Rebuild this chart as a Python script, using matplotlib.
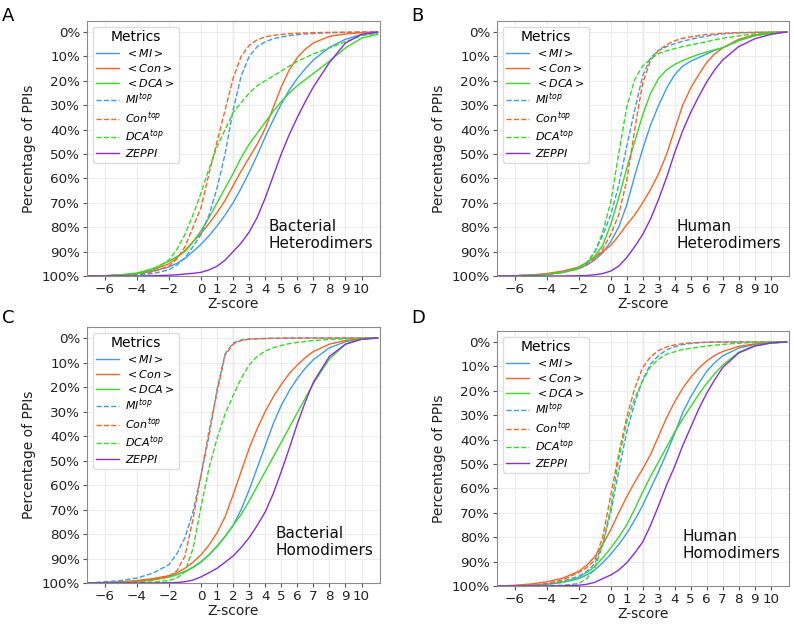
import numpy as np
import matplotlib.pyplot as plt

# Z-score sampling points shared by every curve
zscore = [-7, -6, -5, -4, -3, -2, -1.5, -1, -0.5, 0, 0.5, 1, 1.5, 2, 2.5,
          3, 3.5, 4, 4.5, 5, 5.5, 6, 6.5, 7, 8, 9, 10, 11]

# A: bacterial heterodimers (percentage of PPIs)
a_mi = [100, 99.9, 99.6, 99.1, 98, 96.3, 94.8, 92.8, 90, 87, 83.5, 79.5, 75, 70, 64,
        57.5, 50.5, 43, 36, 29.5, 23.8, 19, 15, 11.5, 6.3, 3, 1, 0.3]
a_con = [100, 99.9, 99.6, 99, 97.5, 95, 92.5, 89.5, 86, 82.5, 78.5, 74, 69, 63, 57,
         51.5, 46, 39.5, 31, 22.5, 15.5, 10.5, 7, 4.5, 1.8, 0.8, 0.3, 0]
a_dca = [100, 99.9, 99.5, 98.8, 97, 94, 92, 90, 86, 81.5, 76, 70, 64, 58, 51.5,
         46, 41.5, 37, 32.5, 28.5, 25, 22, 19.5, 17, 12, 6.5, 2.5, 1]
a_mitop = [100, 100, 99.9, 99.6, 99, 97.5, 95.5, 92.5, 88, 83, 75, 64, 50, 32, 18,
           10, 6, 4, 2.8, 2, 1.5, 1.1, 0.8, 0.6, 0.3, 0.15, 0.05, 0]
a_contop = [100, 99.9, 99.7, 99.3, 98.3, 96, 93, 88, 80, 72, 58, 45, 32, 19, 10,
            5.5, 3.2, 2, 1.4, 1, 0.7, 0.5, 0.4, 0.3, 0.15, 0.1, 0.05, 0]
a_dcatop = [100, 100, 99.8, 99.3, 97.5, 93.5, 89, 83, 75, 66, 56, 47, 40, 33, 29,
            25, 22, 20, 18, 16, 14, 12, 10.5, 9, 6.5, 4, 1.5, 0.5]
a_zeppi = [100, 100, 100, 100, 99.9, 99.7, 99.5, 99.2, 98.9, 98.5, 97.5, 96, 93.5, 90, 86.5,
           82, 76, 68, 59, 50, 42, 35, 28.5, 22.5, 12.5, 4.5, 1, 0]

# B: human heterodimers
b_mi = [100, 99.9, 99.7, 99.3, 98.5, 97, 95.5, 93.5, 90.5, 86, 80, 71, 59, 48, 38,
        30, 23, 17.5, 14, 12, 10.5, 9, 7.5, 6.5, 3.5, 1.5, 0.5, 0]
b_con = [100, 99.9, 99.6, 99, 98, 96.3, 94.5, 92.5, 90, 87.5, 83.5, 79, 75, 70, 64.5,
         58, 50, 40, 30, 23, 17.5, 12.5, 9, 6.5, 3, 1.2, 0.4, 0]
b_dca = [100, 99.9, 99.7, 99.3, 98.5, 96.5, 94.5, 92, 87.5, 79, 68, 56, 45, 34, 25,
         19, 15.5, 13.3, 11.7, 10.4, 9.2, 8.2, 7.3, 6.5, 3.5, 1.5, 0.5, 0]
b_mitop = [100, 99.9, 99.7, 99.3, 98.5, 97, 95, 90, 83.5, 75, 63, 47, 32, 18, 10.5,
           7.5, 6, 4.8, 3.8, 3, 2.3, 1.7, 1.2, 0.8, 0.4, 0.2, 0.05, 0]
b_contop = [100, 99.9, 99.7, 99.3, 98.5, 97, 95.5, 93, 89, 83, 75, 61, 40, 21, 11.5,
            7.5, 5.2, 3.6, 2.6, 2, 1.5, 1, 0.8, 0.5, 0.25, 0.1, 0.05, 0]
b_dcatop = [100, 99.9, 99.7, 99.3, 98.5, 97, 94.5, 90.5, 82, 70, 50, 31, 19.5, 14, 11,
            8.8, 7.7, 6.8, 6, 5.3, 4.6, 4, 3.2, 2.6, 1.6, 0.8, 0.2, 0]
b_zeppi = [100, 100, 100, 100, 100, 99.9, 99.8, 99.5, 99, 98, 96, 92.5, 88, 83, 76.5,
           68.5, 59.5, 49.5, 40.5, 33, 26.5, 20.5, 15.5, 11.5, 6, 2.8, 1, 0]

# C: bacterial homodimers
c_mi = [100, 99.9, 99.7, 99.4, 98.7, 97.5, 96.5, 95.3, 93.5, 91.3, 88.5, 85, 81, 76.5, 70,
        62, 53, 44, 35, 27.5, 21.5, 16.5, 12.3, 8.8, 4, 1.5, 0.3, 0]
c_con = [100, 99.8, 99.5, 99, 98.2, 97, 95.8, 94, 91.5, 88.5, 84.5, 79.5, 73, 64, 54.5,
         45, 37, 30, 24, 19, 14.5, 11, 8, 5.5, 2.5, 1, 0.3, 0]
c_dca = [100, 99.9, 99.7, 99.4, 98.7, 97.6, 96.6, 95.4, 93.7, 91.5, 88.5, 85, 81, 76.5, 72,
         66.5, 60.5, 54.5, 48.5, 42.5, 36.5, 30.5, 24.5, 18.5, 8.5, 2.5, 0.5, 0]
c_mitop = [100, 99.5, 99, 98, 96, 92.5, 88, 81.5, 71, 56, 40, 21, 6.5, 2, 0.8,
           0.4, 0.3, 0.2, 0.1, 0.1, 0.05, 0, 0, 0, 0, 0, 0, 0]
c_contop = [100, 99.9, 99.7, 99.4, 98.7, 97.3, 95, 89, 74, 56, 38, 22, 7, 2.5, 1,
            0.5, 0.3, 0.2, 0.1, 0.05, 0, 0, 0, 0, 0, 0, 0, 0]
c_dcatop = [100, 100, 99.9, 99.8, 99.6, 99, 98, 95.5, 86, 69, 53, 41, 31, 23.5, 16.5,
            11, 7.5, 5.3, 4, 3, 2.3, 1.8, 1.4, 1, 0.6, 0.3, 0.1, 0]
c_zeppi = [100, 100, 100, 100, 100, 99.9, 99.8, 99.5, 98.8, 97.5, 95.8, 94, 91.5, 89, 85.5,
           81.5, 76.5, 71, 63.5, 54.5, 45, 35, 26, 18, 7.5, 2.5, 0.5, 0]

# D: human homodimers
d_mi = [100, 99.9, 99.7, 99.3, 98.5, 97, 95.5, 93.5, 90.5, 87, 83, 78.5, 73, 67, 60,
        53, 45.5, 37.5, 29, 22.5, 17, 12, 8.5, 5.7, 2.5, 1, 0.3, 0]
d_con = [100, 99.7, 99.2, 98.3, 96.8, 94, 91.5, 88, 83, 77, 70, 63.5, 57.5, 52, 46,
         38.5, 31, 24.5, 19, 14.5, 10.8, 7.8, 5.5, 3.9, 1.8, 0.8, 0.3, 0]
d_dca = [100, 99.9, 99.7, 99.3, 98.5, 96.5, 94.5, 92, 88.5, 84.5, 80, 75, 68.5, 61.5, 55,
         49, 43, 37, 31.5, 26.5, 21.5, 17, 13, 9.5, 4.2, 1.5, 0.5, 0]
d_mitop = [100, 99.9, 99.7, 99.3, 98, 96, 94, 91, 83, 70, 53, 37, 25, 15.5, 9,
           5.5, 3.2, 1.9, 1.1, 0.6, 0.3, 0.15, 0.05, 0, 0, 0, 0, 0]
d_contop = [100, 99.9, 99.6, 99, 97.5, 94.5, 92.5, 89.5, 80, 63, 46, 31, 19, 10.5, 6,
            3.5, 2, 1.2, 0.7, 0.4, 0.2, 0.1, 0, 0, 0, 0, 0, 0]
d_dcatop = [100, 100, 100, 99.9, 99.7, 99, 97, 93, 83, 68, 48, 33, 23, 16, 10,
            7, 5, 4, 3.1, 2.6, 2.1, 1.7, 1.3, 1, 0.5, 0.2, 0.05, 0]
d_zeppi = [100, 100, 100, 100, 99.9, 99.7, 99.3, 98.5, 97, 95.5, 93.5, 90.5, 86.5, 82, 75,
           67, 58.5, 51, 42.5, 35, 27.5, 21, 15.5, 10.5, 4.5, 1.7, 0.4, 0]

metric_labels = [r'$<MI>$', r'$<Con>$', r'$<DCA>$', r'$MI^{top}$',
                 r'$Con^{top}$', r'$DCA^{top}$', r'$ZEPPI$']
x_ticks = [-6, -4, -2, 0, 1, 2, 3, 4, 5, 6, 7, 8, 9, 10]
y_ticks = [0, 10, 20, 30, 40, 50, 60, 70, 80, 90, 100]

c_blue, c_orange, c_green, c_purple = '#3b9cf2', '#ff6222', '#33dd22', '#8a2be2'
line_colors = [c_blue, c_orange, c_green, c_blue, c_orange, c_green, c_purple]
line_styles = ['-', '-', '-', '--', '--', '--', '-']

panels = [
    ('A', [0.1096, 0.5584, 0.3690, 0.4080], (0.002, 0.989), 'Bacterial\nHeterodimers', 0.618,
     [a_mi, a_con, a_dca, a_mitop, a_contop, a_dcatop, a_zeppi]),
    ('B', [0.6260, 0.5584, 0.3678, 0.4080], (0.518, 0.989), 'Human\nHeterodimers', 0.616,
     [b_mi, b_con, b_dca, b_mitop, b_contop, b_dcatop, b_zeppi]),
    ('C', [0.1096, 0.0672, 0.3690, 0.4096], (0.002, 0.505), 'Bacterial\nHomodimers', 0.642,
     [c_mi, c_con, c_dca, c_mitop, c_contop, c_dcatop, c_zeppi]),
    ('D', [0.6260, 0.0624, 0.3678, 0.4080], (0.518, 0.505), 'Human\nHomodimers', 0.634,
     [d_mi, d_con, d_dca, d_mitop, d_contop, d_dcatop, d_zeppi]),
]

fig = plt.figure(figsize=(7.94, 6.25), dpi=100)

for letter, rect, letter_pos, name, name_x, curves in panels:
    ax = fig.add_axes(rect)
    ax.axvline(2, color='#b8b8b8', lw=0.9, zorder=1)
    for vals, col, ls, lab in zip(curves, line_colors, line_styles, metric_labels):
        ax.plot(zscore, vals, color=col, ls=ls, lw=1.0, label=lab, zorder=3)

    ax.set_xlim(-7.1, 11.15)
    ax.set_ylim(100, -4.5)
    ax.set_xticks(x_ticks)
    ax.set_yticks(y_ticks)
    ax.set_yticklabels([f'{v}%' for v in y_ticks])
    ax.tick_params(labelsize=9.7, length=3, color='#555555', labelcolor='#222222', pad=2)
    ax.grid(True, color='#ececec', lw=0.7, zorder=0)
    for sp in ax.spines.values():
        sp.set_color('#8c8c8c')
    ax.set_xlabel('Z-score', fontsize=10, color='#222222', labelpad=1)
    ax.set_ylabel('Percentage of PPIs', fontsize=10, color='#222222')

    leg = ax.legend(loc='upper left', title='Metrics', fontsize=8, title_fontsize=10,
                    handlelength=2.0, handletextpad=0.6, labelspacing=0.25,
                    borderpad=0.35, framealpha=1)
    leg.get_frame().set_edgecolor('#dddddd')

    ax.text(name_x, 0.098, name, transform=ax.transAxes, fontsize=11,
            ha='left', va='bottom', color='#111111')
    fig.text(letter_pos[0], letter_pos[1], letter, fontsize=13, ha='left', va='top')

fig.savefig('out.png', dpi=100)
